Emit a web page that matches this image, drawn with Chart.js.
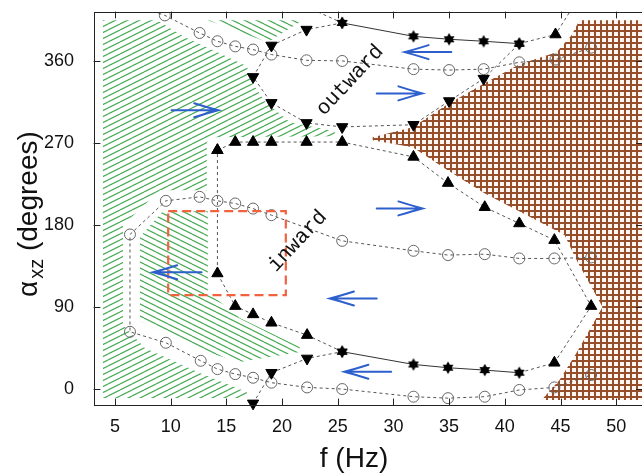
<!DOCTYPE html>
<html><head><meta charset="utf-8">
<script src="https://cdn.jsdelivr.net/npm/chart.js@4/dist/chart.umd.min.js"></script>
<style>html,body{margin:0;padding:0;background:#fff;overflow:hidden}canvas{display:block}</style>
</head><body>
<canvas id="c" width="650" height="474"></canvas>
<script>
// ---- axes ----
const xTicks = [5,10,15,20,25,30,35,40,45,50];
const yTicks = [0,90,180,270,360];
const xRange = [3.12, 52.36];
const yRange = [-17.5, 413.7];

// ---- open-circle branches (f in Hz, alpha_xz in degrees) ----
const circLoopF = [47.75,44.45,41.3,38.2,34.9,31.8,25.4,19.05,17.4,15.8,14.2,12.6,9.57,6.35,6.35,9.57,12.7,14.2,15.8,17.4,19.05,22.25,25.4,31.8,34.9,38.2,41.3,44.45,47.75];
const circLoopA = [144.4,143.3,143.3,148,147,151.7,162.6,190.8,198,203.6,206.5,210.9,206.5,169.6,62.8,50.8,31,21.9,16.4,12.4,7,1.8,0,-8.4,-10,-8.4,-1,1.8,15.4];
const circTopF = [6.35,9.48,12.6,14.2,15.8,17.4,19.05,22.2,25.4,31.8,35.0,38.1,41.3,44.55,47.75];
const circTopA = [422.8,410,390.7,381.6,376,372.5,367,360.7,360,351,350,351,358.5,361.5,374.6];

// ---- triangle / star branches (^ up triangle, v down triangle, * star) ----
const triLoopF = [14.2,15.8,17.4,19.05,22.2,25.4,31.8,34.9,38.2,41.3,44.45,47.75,44.45,41.3,38.2,34.9,31.8,25.4,22.25,19.05,17.4,15.8,14.2,14.2];
const triLoopA = [262,271,271,271,271,271,254.7,226,199.5,181.7,163.4,91,28.8,17.9,20.8,23.4,27,41,59.2,72.7,81.9,91,126.8,262];
const triLoopK = '^^^^^^^^^^^^^*****^^^^^^';
const downLowF = [17.4,19.05,22.25,25.4];
const downLowA = [-15.7,17.9,33.6,41];
const downLowK = 'vvv*';
const starTopF = [22.25,25.4,31.8,35.0,38.1,41.3,44.55,47.75];
const starTopA = [419.2,401.7,387,383.8,381.6,379,389,451];
const starTopK = '^*****^^';
const downTopF = [25.4,22.2,19.05,17.4,19.05,22.2,25.4,31.8,35.0,38.1,41.3];
const downTopA = [401.7,394.4,377,342.5,314,292,287.6,290,316,340.6,379];
const downTopK = '*vvvvvvvvv*';

// ---- shaded regions ----
const greenOuterF = [3.92,8.77,11.28,14.60,16.84,17.29,18.45,20.70,24.73,24.73,13.70,13.25,13.25,9.04,5.72,5.72,7.69,12.62,16.84,16.84,3.92];
const greenOuterA = [404.6,404.6,386,367.3,354.2,336.6,315.8,292.8,282.9,277.4,276.3,270.8,218.2,218.2,179.8,70.2,45,17.5,-3.3,-9.9,-9.9];
const greenInnerF = [7.24,9.30,13.34,13.34,16.21,21.59,21.59,16.21,12.62,9.48,7.24];
const greenInnerA = [166.7,195.2,195.2,106.4,77.9,46.1,40.6,29.6,42.8,61.4,74.6];
const greenTopF = [13.34,21.86,18.72];
const greenTopA = [404.6,404.6,380.5];
const brownF = [46.70,53,53,43.30,44.91,46.43,48.77,46.53,45.36,42.49,38.18,34.87,31.73,28.14,28.14,31.73,34.87,38.18,41.32,44.64,45.99];
const brownA = [404.6,404.6,-12.1,-12.1,9.9,39.5,89.9,139.3,168.9,187.5,214.9,240.1,265.4,273,276.3,287.3,312.5,335.5,356.4,369.5,388.2];

// ---- annotations ----
const arrowTailF = [10.08,28.5,35.2,28.5,28.5,29.8,12.78];
const arrowTipF  = [14.27,32.6,31.0,32.6,24.3,25.6,8.43];
const arrowA     = [305.9,324.4,369.7,198.2,99.4,19,128.1];
const boxF = [9.78,20.34];
const boxA = [103,195.2];
const noteText = ['outward','inward'];
const noteF = [26.1,21.4];
const noteA = [338.8,162.3];

// ---- build ----
const cv = document.getElementById('c');
const cx = cv.getContext('2d');
function tile(w,h,draw){const t=document.createElement('canvas');t.width=w;t.height=h;draw(t.getContext('2d'),w,h);return cx.createPattern(t,'repeat');}
function hatch(color,rising){return tile(12,6,(g,w,h)=>{g.strokeStyle=color;g.lineWidth=1.2;for(const d of [-h,0,h]){g.beginPath();if(rising){g.moveTo(0,h+d);g.lineTo(w,d);}else{g.moveTo(0,d);g.lineTo(w,h+d);}g.stroke();}});}
const greenUp = hatch('rgb(72,172,86)',true);
const greenDown = hatch('rgb(72,172,86)',false);
const brownGrid = tile(6,6,(g)=>{g.fillStyle='#fff6f2';g.fillRect(0,0,6,6);g.fillStyle='rgb(150,78,42)';g.fillRect(0,0,6,2);g.fillRect(0,0,2,6);});
const starImg=(()=>{const s=14,c=document.createElement('canvas');c.width=c.height=s;const g=c.getContext('2d');g.fillStyle='#000';const R=6.2;for(const off of [-90,90]){g.beginPath();for(let i=0;i<3;i++){const t=(off+i*120)*Math.PI/180;const px=s/2+R*Math.cos(t),py=s/2+R*Math.sin(t);i?g.lineTo(px,py):g.moveTo(px,py);}g.closePath();g.fill();}return c;})();

const pts=(F,A,K)=>F.map((f,i)=>({x:f,y:A[i],k:K?K[i]:'o'}));
const poly=(F,A)=>F.map((f,i)=>({x:f,y:A[i]}));
const solidSeg=ctx=>{const d=ctx.chart.data.datasets[ctx.datasetIndex].data;return d[ctx.p0DataIndex].k==='*'&&d[ctx.p1DataIndex].k==='*';};

function region(F,A,pat){return {type:'scatter',data:poly(F,A),showLine:true,fill:'shape',backgroundColor:pat,borderColor:'rgba(0,0,0,0)',borderWidth:0,pointRadius:0,order:10};}
function chain(F,A,K){return {type:'scatter',data:pts(F,A,K),showLine:true,fill:false,order:1,
  clip:{left:0,top:0,right:0,bottom:6},
  borderWidth:1,
  borderColor:'#555',
  borderDash:[3,3],
  segment:{
    borderDash:ctx=>solidSeg(ctx)?[]:[3,3],
    borderColor:ctx=>solidSeg(ctx)?'#333':'#555'
  },
  pointStyle:c=>{const k=c.raw&&c.raw.k;return k==='*'?starImg:(k==='o'?'circle':'triangle');},
  rotation:c=>(c.raw&&c.raw.k==='v')?180:0,
  pointRadius:c=>{const k=c.raw&&c.raw.k;return k==='o'?5.5:6.5;},
  pointBorderWidth:1,
  pointBorderColor:c=>(c.raw&&c.raw.k==='o')?'#666':'#000',
  pointBackgroundColor:c=>(c.raw&&c.raw.k==='o')?'rgba(255,255,255,0)':'#000'
};}

const decor = {
  id:'decor',
  afterDatasetsDraw(chart){
    const {ctx,chartArea:a,scales:{x,y}}=chart;
    ctx.save();
    // red dashed box
    ctx.strokeStyle='rgb(242,98,62)';ctx.lineWidth=2.2;ctx.setLineDash([9,5]);
    const bx0=x.getPixelForValue(boxF[0]),bx1=x.getPixelForValue(boxF[1]),by0=y.getPixelForValue(boxA[1]),by1=y.getPixelForValue(boxA[0]);
    ctx.strokeRect(bx0,by0,bx1-bx0,by1-by0);
    ctx.setLineDash([]);
    // arrows
    ctx.strokeStyle='rgb(45,95,205)';ctx.lineWidth=2;ctx.lineCap='round';
    arrowA.forEach((al,i)=>{
      const x0=x.getPixelForValue(arrowTailF[i]),x1=x.getPixelForValue(arrowTipF[i]),py=y.getPixelForValue(al);
      const dir=Math.sign(x1-x0);
      ctx.beginPath();ctx.moveTo(x0,py);ctx.lineTo(x1,py);
      ctx.moveTo(x1-dir*24,py-7);ctx.quadraticCurveTo(x1-dir*8,py-2,x1,py);
      ctx.quadraticCurveTo(x1-dir*8,py+2,x1-dir*24,py+7);
      ctx.stroke();
    });
    // notes
    ctx.fillStyle='#111';ctx.font='21px "Liberation Mono"';ctx.textAlign='center';ctx.textBaseline='middle';
    noteText.forEach((t,i)=>{ctx.save();ctx.translate(x.getPixelForValue(noteF[i]),y.getPixelForValue(noteA[i]));ctx.rotate(-47*Math.PI/180);ctx.fillText(t,0,0);ctx.restore();});
    // frame + inward ticks
    ctx.strokeStyle='#222';ctx.lineWidth=1;
    ctx.strokeRect(Math.round(a.left)+0.5,Math.round(a.top)+0.5,Math.round(a.right-a.left),Math.round(a.bottom-a.top));
    ctx.beginPath();
    xTicks.forEach(v=>{const p=Math.round(x.getPixelForValue(v))+0.5;ctx.moveTo(p,a.bottom);ctx.lineTo(p,a.bottom-6);ctx.moveTo(p,a.top);ctx.lineTo(p,a.top+6);});
    yTicks.forEach(v=>{const p=Math.round(y.getPixelForValue(v))+0.5;ctx.moveTo(a.left,p);ctx.lineTo(a.left+6,p);ctx.moveTo(a.right,p);ctx.lineTo(a.right-6,p);});
    ctx.stroke();
    ctx.restore();
  },
  afterDraw(chart){
    const ctx=chart.ctx;ctx.save();ctx.fillStyle='#111';ctx.textBaseline='alphabetic';
    ctx.font='28px "Liberation Sans"';ctx.textAlign='center';
    ctx.fillText('f (Hz)',354,467);
    ctx.translate(37,297);ctx.rotate(-Math.PI/2);ctx.textAlign='left';
    ctx.fillText('α',0,0);let w=ctx.measureText('α').width+2;
    ctx.font='20px "Liberation Sans"';ctx.fillText('xz',w,6);w+=ctx.measureText('xz').width;
    ctx.font='28px "Liberation Sans"';ctx.fillText(' (degrees)',w,0);
    ctx.restore();
  }
};

const tickFont={family:'"Liberation Sans"',size:18};
new Chart(cx,{
  data:{datasets:[
    chain(triLoopF,triLoopA,triLoopK),
    chain(downLowF,downLowA,downLowK),
    chain(starTopF,starTopA,starTopK),
    chain(downTopF,downTopA,downTopK),
    chain(circLoopF,circLoopA,null),
    chain(circTopF,circTopA,null),
    region(greenOuterF,greenOuterA,greenUp),
    region(greenInnerF,greenInnerA,greenDown),
    region(greenTopF,greenTopA,greenDown),
    region(brownF,brownA,brownGrid)
  ]},
  options:{
    responsive:false,animation:false,devicePixelRatio:1,
    layout:{padding:{top:12,right:7,left:0,bottom:0}},
    plugins:{legend:{display:false},tooltip:{enabled:false}},
    scales:{
      x:{type:'linear',min:xRange[0],max:xRange[1],grid:{display:false,drawTicks:false},border:{display:false},
         ticks:{font:tickFont,color:'#111',padding:11,autoSkip:false,maxRotation:0},
         afterBuildTicks:s=>{s.ticks=xTicks.map(v=>({value:v}));},
         afterFit:s=>{s.height=69;s.paddingLeft=0;s.paddingRight=0;s.paddingTop=0;s.paddingBottom=0;}},
      y:{type:'linear',min:yRange[0],max:yRange[1],grid:{display:false,drawTicks:false},border:{display:false},
         ticks:{font:tickFont,color:'#111',padding:20,autoSkip:false},
         afterBuildTicks:s=>{s.ticks=yTicks.map(v=>({value:v}));},
         afterFit:s=>{s.width=94;s.paddingLeft=0;s.paddingRight=0;s.paddingTop=0;s.paddingBottom=0;}}
    }
  },
  plugins:[decor]
});
</script>
</body></html>
